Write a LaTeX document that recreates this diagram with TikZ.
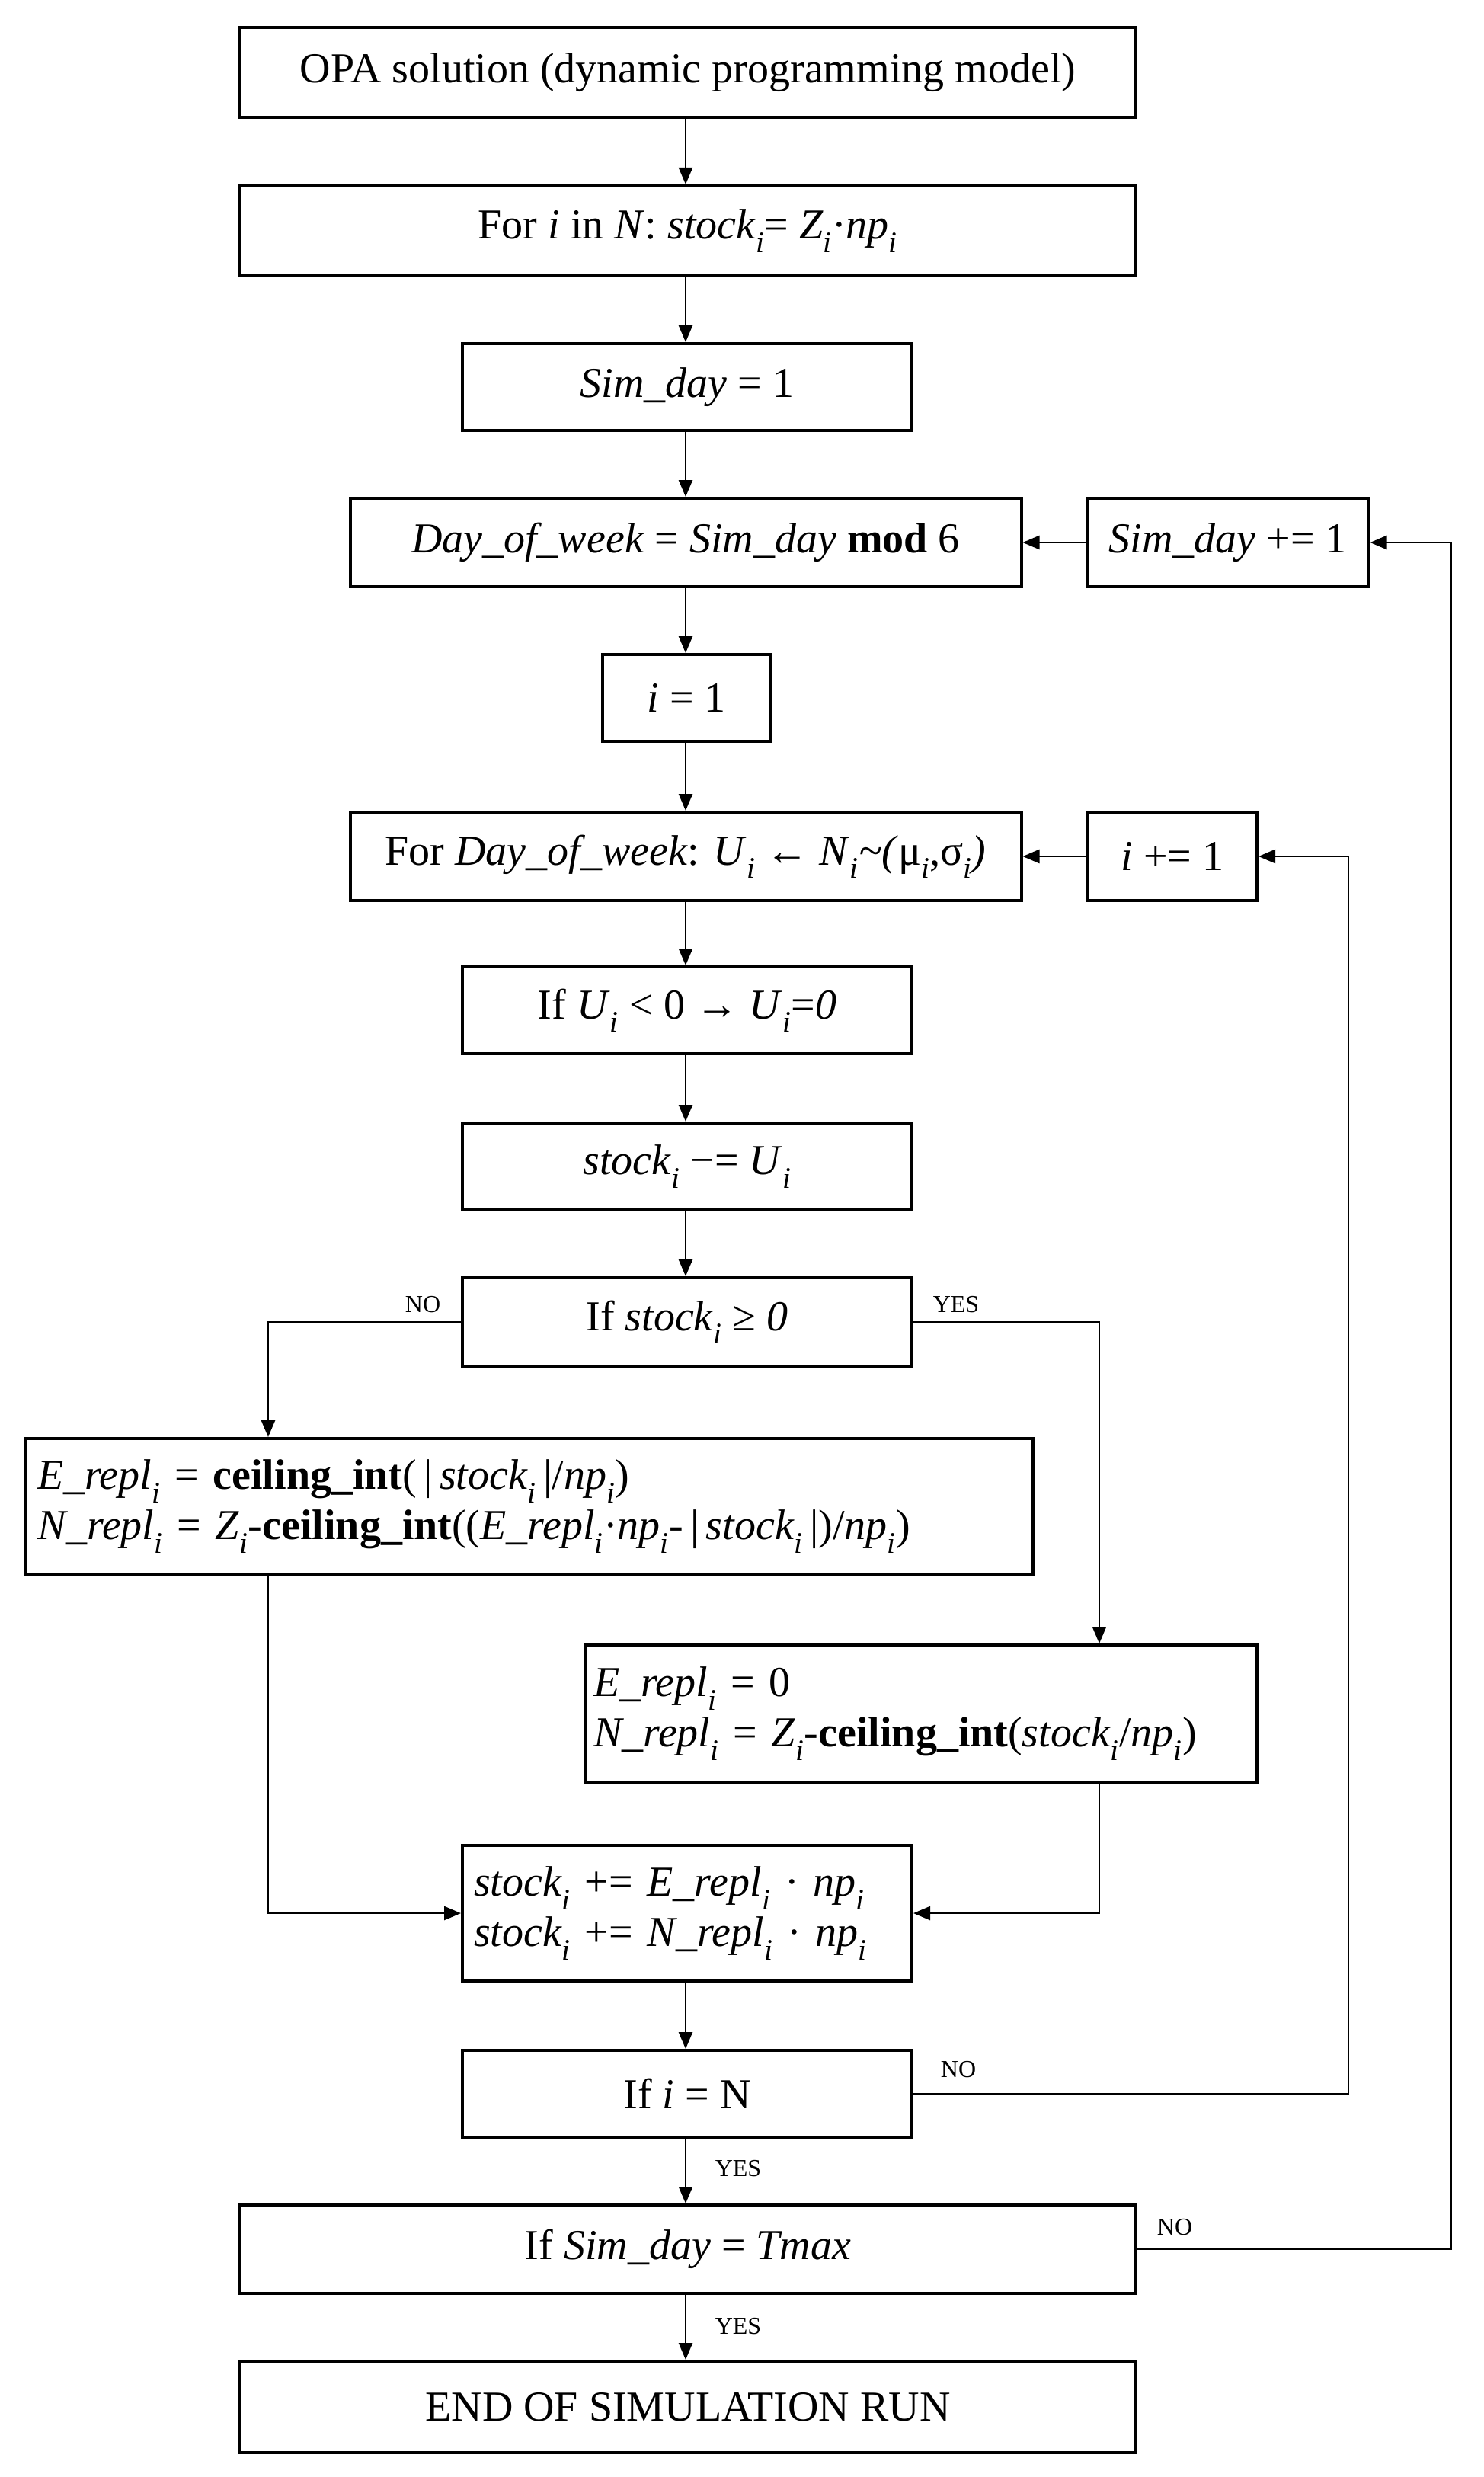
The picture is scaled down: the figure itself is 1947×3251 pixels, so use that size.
\documentclass[tikz,border=0pt]{standalone}
\usepackage{fontspec}
\setmainfont{Liberation Serif}
\usetikzlibrary{arrows.meta}
\newcommand{\ssb}[1]{\textsubscript{\textit{#1}}}
\begin{document}
\begin{tikzpicture}[x=1pt,y=-1pt,
  box/.style={draw,line width=4pt,minimum height=#1,inner sep=0pt,font=\fontsize{56}{66}\selectfont},
  box/.default=114,
  arr/.style={line width=2.5pt,-{Triangle[length=22pt,width=18pt]}},
  lab/.style={font=\fontsize{32}{36}\selectfont}]
\useasboundingbox (0,0) rectangle (1947,3251);
\fill[white] (0,0) rectangle (1947,3251);
\node[box=118,minimum width=1176] (a) at (903,95) {OPA solution (dynamic programming model)};
\node[box=118,minimum width=1176] (b) at (903,303) {For \textit{i} in \textit{N}: \textit{stock}\ssb{i}= \textit{Z}\ssb{i}·\textit{np}\ssb{i}};
\node[box,minimum width=590] (c) at (902,508) {\textit{Sim\_day} = 1};
\node[box=116,minimum width=881] (d) at (900,712) {\textit{Day\_of\_week} = \textit{Sim\_day} \textbf{mod} 6};
\node[box=116,minimum width=369] (e) at (1612,712) {\textit{Sim\_day} += 1};
\node[box,minimum width=221] (f) at (901,916) {\textit{i} = 1};
\node[box=116,minimum width=881] (g) at (900,1124) {For \textit{Day\_of\_week}: \textit{U}\ssb{i} ← \textit{N}\ssb{i}\textit{\textasciitilde(}μ\ssb{i},σ\ssb{i}\textit{)}};
\node[box=116,minimum width=222] (h) at (1539,1124) {\textit{i} += 1};
\node[box,minimum width=590] (k) at (902,1326) {If \textit{U}\ssb{i} < 0 → \textit{U}\ssb{i}=\textit{0}};
\node[box,minimum width=590] (l) at (902,1531) {\textit{stock}\ssb{i} −= \textit{U}\ssb{i}};
\node[box=116,minimum width=590] (m) at (902,1735) {If \textit{stock}\ssb{i} ≥ \textit{0}};
\node[box=178,minimum width=1323,align=left,text width=1290] (n) at (694,1977) {\textit{E\_repl}\ssb{i} = \textbf{ceiling\_int}(\,|\,\textit{stock}\ssb{i}\,|/\textit{np}\ssb{i})\\ \textit{N\_repl}\ssb{i} = \textit{Z}\ssb{i}-\textbf{ceiling\_int}((\textit{E\_repl}\ssb{i}·\textit{np}\ssb{i}-\,|\,\textit{stock}\ssb{i}\,|)/\textit{np}\ssb{i})};
\node[box=180,minimum width=882,align=left,text width=860] (o) at (1209,2249) {\textit{E\_repl}\ssb{i} = 0\\ \textit{N\_repl}\ssb{i} = \textit{Z}\ssb{i}-\textbf{ceiling\_int}(\textit{stock}\ssb{i}/\textit{np}\ssb{i})};
\node[box=178,minimum width=590,align=left,text width=560] (p) at (902,2511) {\textit{stock}\ssb{i} += \textit{E\_repl}\ssb{i} · \textit{np}\ssb{i}\\ \textit{stock}\ssb{i} += \textit{N\_repl}\ssb{i} · \textit{np}\ssb{i}};
\node[box,minimum width=590] (q) at (902,2748) {If \textit{i} = N};
\node[box=116,minimum width=1176] (r) at (903,2952) {If \textit{Sim\_day} = \textit{Tmax}};
\node[box=120,minimum width=1176] (s) at (903,3159) {END OF SIMULATION RUN};
\foreach \u/\v in {a/b,b/c,c/d,d/f,f/g,g/k,k/l,l/m,p/q,q/r,r/s} \draw[arr] (\u.south -| 900,0) -- (\v.north -| 900,0);
\draw[arr] (e) -- (d);
\draw[arr] (h) -- (g);
\draw[arr] (m.west) -| (352,0 |- n.north);
\draw[arr] (m.east) -| (1443,0 |- o.north);
\draw[arr] (352,0 |- n.south) |- (p.west);
\draw[arr] (1443,0 |- o.south) |- (p.east);
\draw[arr] (q.east) -| (1770,1124) -- (h.east);
\draw[arr] (r.east) -| (1905,712) -- (e.east);
\node[lab] at (555,1712) {NO};
\node[lab] at (1255,1712) {YES};
\node[lab] at (1258,2716) {NO};
\node[lab] at (1542,2923) {NO};
\node[lab] at (969,2846) {YES};
\node[lab] at (969,3053) {YES};
\end{tikzpicture}
\end{document}
